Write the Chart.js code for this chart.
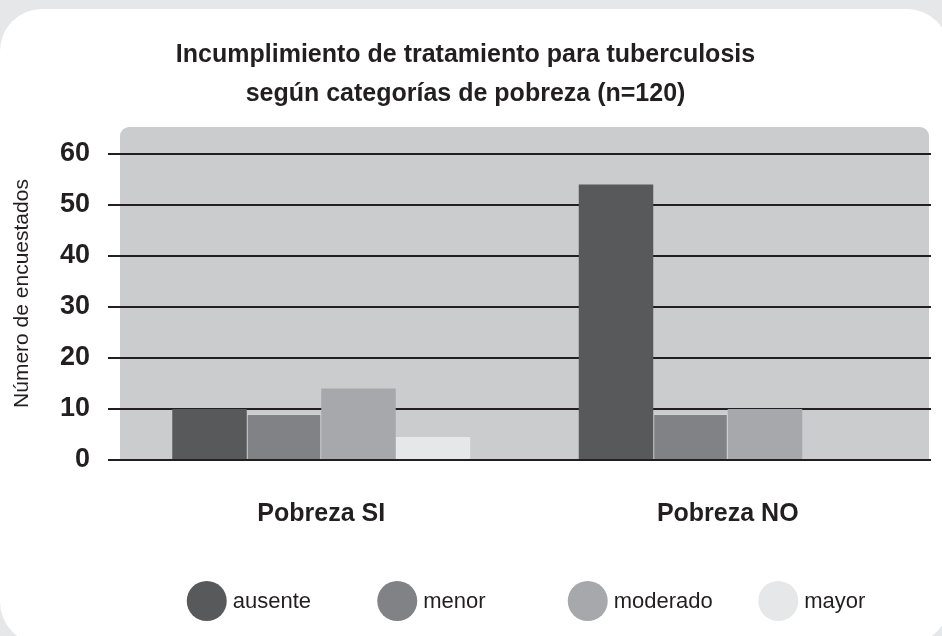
<!DOCTYPE html>
<html>
<head>
<meta charset="utf-8">
<script src="https://cdn.jsdelivr.net/npm/chart.js@4/dist/chart.umd.min.js"></script>
<style>
  html, body { margin: 0; padding: 0; background: #e6e7e8; }
  #wrap { width: 942px; height: 636px; position: relative; }
</style>
</head>
<body>
<div id="wrap"><canvas id="c" width="942" height="636"></canvas></div>
<script>
const categories = ['Pobreza SI', 'Pobreza NO'];
const seriesNames = ['ausente', 'menor', 'moderado', 'mayor'];
const ausente  = [10, 54];
const menor    = [9, 9];
const moderado = [14, 10];
const mayor    = [4.5, 0];
const yTicks = [0, 10, 20, 30, 40, 50, 60];
const titleLines = ['Incumplimiento de tratamiento para tuberculosis', 'según categorías de pobreza (n=120)'];
const yTitle = 'Número de encuestados';

const colors = ['#58595b', '#818285', '#a7a8ab', '#e6e7e8'];
const FONT = '"Liberation Sans", Arial, Helvetica, sans-serif';
const TEXT = '#231f20';

const bgPlugin = {
  id: 'bgPlugin',
  beforeDraw(chart) {
    const ctx = chart.ctx;
    const a = chart.chartArea;
    ctx.save();
    ctx.fillStyle = '#e6e7e8';
    ctx.fillRect(0, 0, chart.width, chart.height);
    ctx.fillStyle = '#ffffff';
    ctx.beginPath();
    ctx.roundRect(0, 9, 949, 635, 42);
    ctx.fill();
    ctx.fillStyle = '#cbcccd';
    ctx.beginPath();
    ctx.roundRect(a.left + 2, a.top, a.right - a.left - 4, a.bottom - a.top, [9, 9, 0, 0]);
    ctx.fill();
    ctx.restore();
  }
};

const legendPlugin = {
  id: 'dotLegend',
  afterDraw(chart) {
    const ctx = chart.ctx;
    const ds = chart.data.datasets;
    const step = 190.5;
    const cx0 = chart.width / 2 + 21.5 - step * (ds.length - 1) / 2;
    const cy = chart.height - 35;
    ctx.save();
    ds.forEach((d, i) => {
      const cx = cx0 + i * step;
      ctx.fillStyle = d.backgroundColor;
      ctx.beginPath();
      ctx.arc(cx, cy, 20, 0, Math.PI * 2);
      ctx.fill();
      ctx.fillStyle = TEXT;
      ctx.font = '22px ' + FONT;
      ctx.textBaseline = 'middle';
      ctx.textAlign = 'left';
      ctx.fillText(d.label, cx + 26, cy + 1);
    });
    ctx.restore();
  }
};

const seriesData = [ausente, menor, moderado, mayor];

new Chart(document.getElementById('c'), {
  type: 'bar',
  data: {
    labels: categories,
    datasets: seriesNames.map((n, i) => ({
      label: n,
      data: seriesData[i],
      backgroundColor: colors[i],
      borderColor: i === 1 ? '#d2d3d4' : colors[i],
      borderWidth: i === 1 ? 1 : 0,
      categoryPercentage: 0.733,
      barPercentage: 1.0
    }))
  },
  options: {
    responsive: false,
    animation: false,
    devicePixelRatio: 1,
    layout: { padding: { left: 0, right: 11, top: 0, bottom: 68 } },
    plugins: {
      legend: { display: false },
      tooltip: { enabled: false },
      title: {
        display: true,
        text: titleLines,
        color: TEXT,
        font: { family: FONT, size: 25, weight: 'bold', lineHeight: 1.54 },
        padding: { top: 36, bottom: 14 }
      }
    },
    scales: {
      x: {
        grid: { display: false, drawTicks: false },
        border: { display: false },
        ticks: {
          color: TEXT,
          padding: 39,
          font: { family: FONT, size: 25, weight: 'bold' }
        }
      },
      y: {
        min: 0,
        max: 65.3,
        afterFit(scale) { scale.width = 118; },
        afterBuildTicks(scale) { scale.ticks = yTicks.map(v => ({ value: v })); },
        grid: { color: TEXT, lineWidth: 2, tickLength: 10, drawTicks: true, tickColor: TEXT, tickWidth: 2 },
        border: { display: false },
        ticks: {
          color: TEXT,
          padding: 18,
          font: { family: FONT, size: 27, weight: 'bold' }
        },
        title: {
          display: true,
          text: yTitle,
          color: TEXT,
          padding: { top: 10 },
          font: { family: FONT, size: 21 }
        }
      }
    }
  },
  plugins: [bgPlugin, legendPlugin]
});
</script>
</body>
</html>
